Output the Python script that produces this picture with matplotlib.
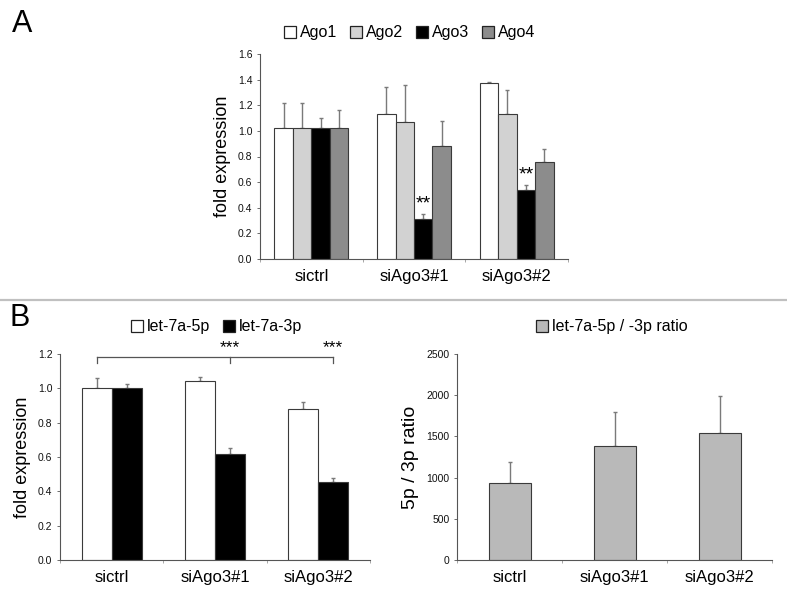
import matplotlib
matplotlib.use("Agg")
import matplotlib.pyplot as plt
import numpy as np
from matplotlib.patches import Patch

plt.rcParams['font.family'] = ['Liberation Sans', 'DejaVu Sans']

categories = ["sictrl", "siAgo3#1", "siAgo3#2"]

# Panel A
ago_names = ["Ago1", "Ago2", "Ago3", "Ago4"]
ago_vals = [
    [1.02, 1.13, 1.37],
    [1.02, 1.07, 1.13],
    [1.02, 0.315, 0.54],
    [1.02, 0.88, 0.757],
]
ago_errs = [
    [0.20, 0.21, 0.01],
    [0.20, 0.29, 0.19],
    [0.08, 0.035, 0.035],
    [0.14, 0.20, 0.10],
]
ago_colors = ["#ffffff", "#d2d2d2", "#000000", "#8c8c8c"]
ago_stars = [None, "**", "**"]

# Panel B left
let_names = ["let-7a-5p", "let-7a-3p"]
let_vals = [
    [1.00, 1.045, 0.88],
    [1.00, 0.62, 0.452],
]
let_errs = [
    [0.06, 0.022, 0.04],
    [0.025, 0.032, 0.026],
]
let_colors = ["#ffffff", "#000000"]
let_stars = [None, "***", "***"]

# Panel B right
ratio_name = "let-7a-5p / -3p ratio"
ratio_vals = [940, 1386, 1540]
ratio_errs = [247, 409, 450]
ratio_color = "#b9b9b9"

EDGE = "#3a3a3a"
ECOL = "#7a7a7a"
SPINE = "#555555"

fig = plt.figure(figsize=(7.87, 6.0), dpi=100)


def style_axes(ax, ylim, yticks, yfmt, ylabel, ylabsize):
    ax.set_xlim(-0.5, len(categories) - 0.5)
    ax.set_ylim(*ylim)
    ax.set_yticks(yticks)
    ax.set_yticklabels([yfmt.format(v) for v in yticks], fontsize=7.5, color="#111111")
    ax.set_xticks(range(len(categories)))
    ax.set_xticklabels(categories, fontsize=12)
    ax.tick_params(axis='x', length=0, pad=7)
    ax.set_xticks(np.arange(-0.5, len(categories) + 0.5, 1), minor=True)
    ax.tick_params(axis='x', which='minor', length=2.5, color="#999999")
    ax.tick_params(axis='y', length=2.5, width=0.6, color=SPINE, pad=3)
    for s in ["top", "right"]:
        ax.spines[s].set_visible(False)
    for s in ["left", "bottom"]:
        ax.spines[s].set_color(SPINE)
        ax.spines[s].set_linewidth(0.8)
    ax.set_ylabel(ylabel, fontsize=ylabsize, labelpad=5)


# ---------- Panel A ----------
axA = fig.add_axes([260 / 787, 1 - 259 / 600, 308 / 787, 205 / 600])
x = np.arange(len(categories))
w = 0.18
nA = len(ago_names)
for i in range(nA):
    pos = x + (i - (nA - 1) / 2) * w
    axA.bar(pos, ago_vals[i], w, color=ago_colors[i], edgecolor=EDGE, linewidth=0.8, zorder=2)
    axA.errorbar(pos, ago_vals[i], yerr=[np.zeros(3), ago_errs[i]], fmt='none',
                 ecolor=ECOL, elinewidth=1.0, capsize=1.5, capthick=1.0, zorder=1)
    if i == 2:
        for j, s in enumerate(ago_stars):
            if s:
                axA.text(pos[j], ago_vals[i][j] + ago_errs[i][j] + 0.015, s,
                         ha='center', va='bottom', fontsize=14)
style_axes(axA, (0, 1.6), np.arange(0, 1.61, 0.2), "{:.1f}", "fold expression", 13)
axA.set_xlim(-0.5, 2.5)
handlesA = [Patch(facecolor=c, edgecolor="#222222", linewidth=0.9) for c in ago_colors]
fig.legend(handlesA, ago_names, loc='center', bbox_to_anchor=(410 / 787, 1 - 33 / 600),
           ncol=4, frameon=False, fontsize=11.5, handlelength=0.75, handleheight=0.75,
           handletextpad=0.25, columnspacing=0.8)

# ---------- Panel B left ----------
axB = fig.add_axes([60 / 787, 1 - 560 / 600, 310 / 787, 206 / 600])
wb = 0.29
nB = len(let_names)
posB = []
for i in range(nB):
    pos = x + (i - (nB - 1) / 2) * wb
    posB.append(pos)
    axB.bar(pos, let_vals[i], wb, color=let_colors[i], edgecolor=EDGE, linewidth=0.8, zorder=2)
    axB.errorbar(pos, let_vals[i], yerr=[np.zeros(3), let_errs[i]], fmt='none',
                 ecolor=ECOL, elinewidth=1.0, capsize=1.5, capthick=1.0, zorder=1)
style_axes(axB, (0, 1.2), np.arange(0, 1.21, 0.2), "{:.1f}", "fold expression", 13)
# significance bracket
by = 1.18
tick_lo = 1.145
axB.plot([posB[0][0], posB[1][2]], [by, by], color="#555555", lw=0.9, clip_on=False)
axB.plot([posB[0][0], posB[0][0]], [tick_lo, by], color="#555555", lw=0.9, clip_on=False)
for j, s in enumerate(let_stars):
    if s:
        axB.plot([posB[1][j], posB[1][j]], [tick_lo, by], color="#555555", lw=0.9, clip_on=False)
        axB.text(posB[1][j], by + 0.012, s, ha='center', va='bottom', fontsize=12.5, clip_on=False)
handlesB = [Patch(facecolor=c, edgecolor="#222222", linewidth=0.9) for c in let_colors]
fig.legend(handlesB, let_names, loc='center', bbox_to_anchor=(217 / 787, 1 - 327 / 600),
           ncol=2, frameon=False, fontsize=11.5, handlelength=0.75, handleheight=0.75,
           handletextpad=0.25, columnspacing=0.8)

# ---------- Panel B right ----------
axC = fig.add_axes([457 / 787, 1 - 560 / 600, 315 / 787, 206 / 600])
wc = 0.4
axC.bar(x, ratio_vals, wc, color=ratio_color, edgecolor=EDGE, linewidth=0.8, zorder=2)
axC.errorbar(x, ratio_vals, yerr=[np.zeros(3), ratio_errs], fmt='none',
             ecolor=ECOL, elinewidth=1.0, capsize=1.5, capthick=1.0, zorder=1)
style_axes(axC, (0, 2500), np.arange(0, 2501, 500), "{:.0f}", "5p / 3p ratio", 14)
fig.legend([Patch(facecolor=ratio_color, edgecolor="#222222", linewidth=0.9)], [ratio_name],
           loc='center', bbox_to_anchor=(612 / 787, 1 - 327 / 600), frameon=False,
           fontsize=11.5, handlelength=0.75, handleheight=0.75, handletextpad=0.25)

# Panel letters and separator
fig.text(12 / 787, 1 - 24 / 600, "A", fontsize=22, va='center', ha='left')
fig.text(10 / 787, 1 - 318 / 600, "B", fontsize=22, va='center', ha='left')
fig.add_artist(plt.Line2D([0, 1], [1 - 300 / 600, 1 - 300 / 600], color="#c0c0c0", lw=1.6,
                          transform=fig.transFigure))

fig.savefig("out.png", dpi=100)
